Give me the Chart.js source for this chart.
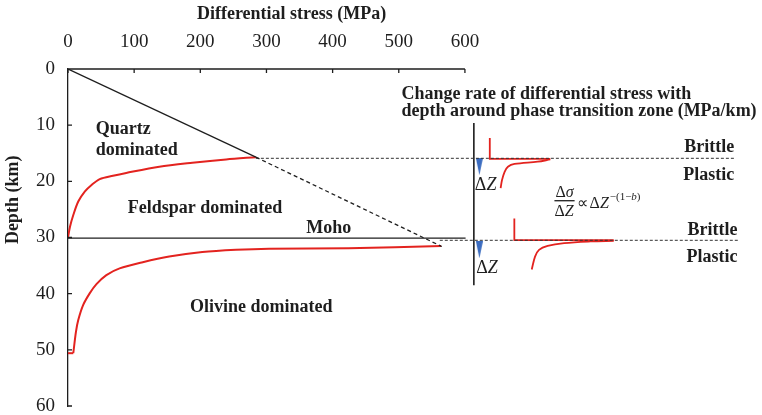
<!DOCTYPE html>
<html>
<head>
<meta charset="utf-8">
<script src="https://cdn.jsdelivr.net/npm/chart.js@4.4.1/dist/chart.umd.min.js"></script>
<style>
html, body { margin: 0; padding: 0; background: #fff; }
#wrap { width: 762px; height: 415px; }
</style>
</head>
<body>
<div id="wrap"><canvas id="graph"></canvas></div>
<script>
// DADOS (x = tensão diferencial MPa, y = profundidade km)
const stressTicks = [0, 100, 200, 300, 400, 500, 600];
const depthTicks = [0, 10, 20, 30, 40, 50, 60];

const frictionSolid = [[0, 0], [284, 15.7]];
const frictionDashed = [[284, 15.7], [565, 31.6]];
const moho = [[0, 30.1], [601, 30.1]];
const quartzFeldspar = [[0, 29.96], [3, 28.1], [8, 26.0], [15.5, 23.6], [25.6, 21.8], [35.6, 20.65], [48, 19.6],
    [68, 19.0], [88, 18.5], [138, 17.4], [188, 16.7], [239, 16.1], [284, 15.7]];
const olivineFoot = [[0, 50.6], [8, 50.6]];
const olivine = [[8, 50.6], [12, 46.8], [15.5, 44.7], [23, 42.0], [33, 39.9], [43, 38.3], [58, 36.7], [78, 35.5],
    [113, 34.4], [153, 33.4], [203, 32.6], [254, 32.2], [304, 32.0], [424, 31.9], [564, 31.5]];
const transition1 = [[284, 15.9], [1007, 15.9]];
const transition2 = [[562, 30.5], [1013, 30.5]];

// painel da direita (taxa de variação)
const rateAxis = [[613.5, 9.6], [613.5, 38.5]];
const spike1Step = [[637.6, 12.3], [637.6, 16.0], [729, 16.0]];
const spike1Tail = [[729, 16.1], [710, 16.5], [675, 16.9], [665, 17.4], [660, 18.3], [656, 19.8], [654, 21.2]];
const spike2Step = [[674.7, 26.6], [674.7, 30.45], [825, 30.45]];
const spike2Tail = [[825, 30.6], [790, 30.7], [750, 31.0], [725, 31.5], [712, 32.2], [706, 33.4], [701, 35.7]];
const deltaArrows = [[621.8, 17.4], [621.8, 32.2]];

const serif = '"Liberation Serif", "Times New Roman", serif';
const RED = "#e3231f";
const INK = "#1e1e1e";

const textLabels = [
    { text: "Quartz", x: 42, y: 11.6, align: "left" },
    { text: "dominated", x: 42, y: 15.3, align: "left" },
    { text: "Feldspar dominated", x: 207, y: 25.6, align: "center" },
    { text: "Moho", x: 394, y: 29.2, align: "center" },
    { text: "Olivine dominated", x: 292, y: 43.3, align: "center" },
    { text: "Change rate of differential stress with", x: 504, y: 5.3, align: "left" },
    { text: "depth around phase transition zone (MPa/km)", x: 504, y: 8.45, align: "left" },
    { text: "Brittle", x: 1007, y: 14.8, align: "right" },
    { text: "Plastic", x: 1007, y: 19.8, align: "right" },
    { text: "Brittle", x: 1012, y: 29.6, align: "right" },
    { text: "Plastic", x: 1012, y: 34.4, align: "right" },
    { text: "Differential stress (MPa)", x: 338, y: -8.9, align: "center" },
];

const pts = (arr) => arr.map(([x, y]) => ({ x, y }));

function line(data, color, width, dash, tension) {
    return {
        data: pts(data),
        showLine: true,
        borderColor: color,
        borderWidth: width,
        borderDash: dash || [],
        tension: tension || 0,
        pointRadius: 0,
        fill: false,
    };
}

function arrowHead(color) {
    const c = document.createElement("canvas");
    c.width = 7;
    c.height = 17;
    const g = c.getContext("2d");
    g.fillStyle = color;
    g.beginPath();
    g.moveTo(0, 0);
    g.lineTo(7, 0);
    g.lineTo(3.5, 17);
    g.closePath();
    g.fill();
    return c;
}

// eixos, textos e fórmula
const decor = {
    id: "decor",
    afterDraw(chart) {
        const { ctx, scales: { x, y } } = chart;
        const X = (v) => x.getPixelForValue(v);
        const Y = (v) => y.getPixelForValue(v);
        ctx.save();
        ctx.strokeStyle = INK;
        ctx.lineWidth = 1.3;
        ctx.beginPath();
        ctx.moveTo(X(0), Y(0));
        ctx.lineTo(X(600), Y(0));
        stressTicks.forEach((v) => { ctx.moveTo(X(v), Y(0)); ctx.lineTo(X(v), Y(0) + 4); });
        depthTicks.forEach((v) => { ctx.moveTo(X(0), Y(v)); ctx.lineTo(X(0) + 4, Y(v)); });
        ctx.stroke();

        ctx.fillStyle = INK;
        ctx.textBaseline = "alphabetic";
        ctx.font = "bold 18px " + serif;
        textLabels.forEach((l) => {
            ctx.textAlign = l.align;
            ctx.fillText(l.text, X(l.x), Y(l.y));
        });

        // título do eixo y
        ctx.save();
        ctx.translate(X(-82.7), Y(23.3));
        ctx.rotate(-Math.PI / 2);
        ctx.textAlign = "center";
        ctx.textBaseline = "middle";
        ctx.fillText("Depth (km)", 0, 0);
        ctx.restore();

        // ΔZ
        const deltaZ = (px, py, size) => {
            ctx.textAlign = "left";
            ctx.font = size + "px " + serif;
            ctx.fillText("Δ", px, py);
            const w = ctx.measureText("Δ").width;
            ctx.font = "italic " + size + "px " + serif;
            ctx.fillText("Z", px + w, py);
            return w + ctx.measureText("Z").width;
        };
        deltaZ(X(615), Y(21.5), 18);
        deltaZ(X(617), Y(36.3), 18);

        // Δσ/ΔZ ∝ ΔZ^-(1-b)
        const fx = X(735.3);
        ctx.font = "16px " + serif;
        ctx.fillText("Δ", fx + 1, Y(22.8));
        const w = ctx.measureText("Δ").width;
        ctx.font = "italic 16px " + serif;
        ctx.fillText("σ", fx + 1 + w, Y(22.8));
        const zw = deltaZ(fx, Y(26.2), 16);
        ctx.lineWidth = 1.3;
        ctx.beginPath();
        ctx.moveTo(fx, Y(23.45));
        ctx.lineTo(fx + zw + 1, Y(23.45));
        ctx.stroke();
        ctx.font = "16px " + serif;
        ctx.fillText("∝", fx + zw + 3, Y(24.75));
        const pw = ctx.measureText("∝").width;
        const ex = fx + zw + 3 + pw + 2;
        const dw = deltaZ(ex, Y(24.75), 16);
        let ox = ex + dw + 1;
        ctx.font = "11px " + serif;
        ctx.fillText("−(1−", ox, Y(23.4));
        ox += ctx.measureText("−(1−").width;
        ctx.font = "italic 11px " + serif;
        ctx.fillText("b", ox, Y(23.4));
        ox += ctx.measureText("b").width;
        ctx.font = "11px " + serif;
        ctx.fillText(")", ox, Y(23.4));
        ctx.restore();
    },
};

const ctx = document.getElementById("graph");
new Chart(ctx, {
    type: "scatter",
    data: {
        datasets: [
            line(frictionSolid, INK, 1.3),
            line(frictionDashed, INK, 1.3, [4, 3]),
            line(moho, INK, 1.3),
            line(transition1, "#333", 1, [3, 2]),
            line(transition2, "#333", 1, [3, 2]),
            line(quartzFeldspar, RED, 2, null, 0.3),
            line(olivineFoot, RED, 2),
            line(olivine, RED, 2, null, 0.3),
            line(rateAxis, INK, 1.6),
            line(spike1Step, RED, 1.8),
            line(spike1Tail, RED, 1.8, null, 0.35),
            line(spike2Step, RED, 1.8),
            line(spike2Tail, RED, 1.8, null, 0.35),
            {
                data: pts(deltaArrows),
                showLine: false,
                pointStyle: arrowHead("#3b6cc0"),
                pointRadius: 5,
            },
        ],
    },
    options: {
        responsive: true,
        maintainAspectRatio: false,
        animation: false,
        layout: { padding: { left: 0, right: 2, top: 0, bottom: 9 } },
        scales: {
            x: {
                type: "linear",
                position: "top",
                min: 0,
                max: 1040,
                afterBuildTicks: (s) => { s.ticks = stressTicks.map((v) => ({ value: v })); },
                afterFit: (s) => { s.height = 69; s.paddingLeft = 0; s.paddingRight = 0; },
                grid: { display: false, drawTicks: false },
                border: { display: false },
                ticks: {
                    padding: 16,
                    autoSkip: false,
                    maxRotation: 0,
                    color: INK,
                    font: { size: 19, family: serif },
                },
            },
            y: {
                type: "linear",
                reverse: true,
                min: 0,
                max: 60,
                afterBuildTicks: (s) => { s.ticks = depthTicks.map((v) => ({ value: v })); },
                afterFit: (s) => { s.width = 68; s.paddingTop = 0; s.paddingBottom = 0; },
                grid: { display: false, drawTicks: false },
                border: { display: true, color: INK, width: 1.3 },
                ticks: {
                    padding: 13,
                    color: INK,
                    font: { size: 19, family: serif },
                },
            },
        },
        plugins: {
            legend: { display: false },
            tooltip: { enabled: false },
        },
    },
    plugins: [decor],
});
</script>
</body>
</html>
